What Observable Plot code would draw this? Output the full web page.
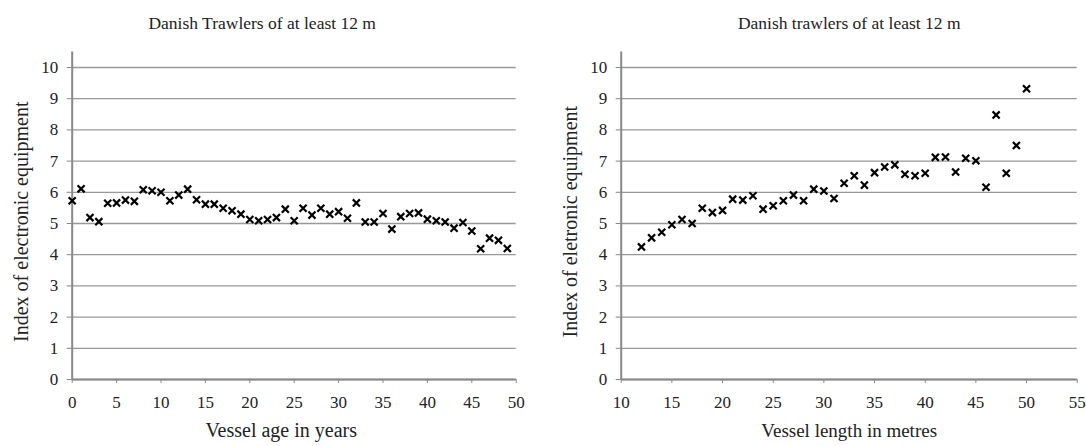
<!DOCTYPE html>
<html><head><meta charset="utf-8">
<script src="https://cdn.jsdelivr.net/npm/d3@7"></script>
<script src="https://cdn.jsdelivr.net/npm/@observablehq/plot@0.6"></script>
<style>
body{margin:0;background:#fff;}
#wrap{display:flex;width:1086px;height:446px;}
svg text{font-family:'Liberation Serif','Times New Roman',serif;}
</style></head><body><div id="wrap"></div>
<script>
const ages = [0,1,2,3,4,5,6,7,8,9,10,11,12,13,14,15,16,17,18,19,20,21,22,23,24,25,26,27,28,29,30,31,32,33,34,35,36,37,38,39,40,41,42,43,44,45,46,47,48,49];
const ageIndex = [5.73,6.11,5.19,5.06,5.65,5.66,5.75,5.71,6.08,6.05,6.00,5.73,5.91,6.10,5.76,5.62,5.62,5.49,5.41,5.30,5.13,5.09,5.13,5.19,5.46,5.09,5.49,5.27,5.49,5.30,5.38,5.17,5.66,5.05,5.05,5.32,4.82,5.22,5.32,5.34,5.14,5.09,5.05,4.85,5.03,4.76,4.19,4.53,4.46,4.20];
const lengths = [12,13,14,15,16,17,18,19,20,21,22,23,24,25,26,27,28,29,30,31,32,33,34,35,36,37,38,39,40,41,42,43,44,45,46,47,48,49,50];
const lengthIndex = [4.25,4.54,4.72,4.96,5.13,5.00,5.49,5.35,5.42,5.78,5.75,5.89,5.46,5.57,5.73,5.91,5.73,6.10,6.04,5.80,6.29,6.53,6.23,6.63,6.81,6.88,6.58,6.53,6.61,7.12,7.13,6.65,7.09,7.01,6.16,8.48,6.61,7.50,9.32];
const yTicks = [0,1,2,3,4,5,6,7,8,9,10];
const ageTicks = [0,5,10,15,20,25,30,35,40,45,50];
const lengthTicks = [10,15,20,25,30,35,40,45,50,55];

const FONT = "'Liberation Serif','Times New Roman',serif";

function chart(o) {
  const data = o.xs.map((x, i) => ({x, y: o.ys[i]}));
  return Plot.plot({
    width: 543, height: 446,
    marginTop: 51.4, marginBottom: 67, marginLeft: o.marginLeft, marginRight: o.marginRight,
    style: {fontFamily: FONT, fontSize: "17px", color: "#222", background: "white", overflow: "visible"},
    x: {domain: o.xDomain},
    y: {domain: [0, 10.5]},
    marks: [
      Plot.gridY({ticks: yTicks, stroke: "#999", strokeOpacity: 1, strokeWidth: 1.3}),
      Plot.axisY({ticks: yTicks, tickSize: 5, tickPadding: 9, stroke: "#888", label: null, fontFamily: FONT, fontSize: 17, fill: "#222"}),
      Plot.axisX({ticks: o.xTicks, tickSize: 4, tickPadding: 12, stroke: "#888", label: null, fontFamily: FONT, fontSize: 17, fill: "#222"}),
      Plot.ruleX([o.xDomain[0]], {stroke: "#888", strokeWidth: 2}),
      Plot.ruleY([0], {stroke: "#888", strokeWidth: 2}),
      Plot.dot(data, {x: "x", y: "y", symbol: "times", r: 3.3, stroke: "black", strokeWidth: 2.2}),
      Plot.text([o.title], {frameAnchor: "top", dy: -35, dx: o.titleDx, fontSize: 17.5, fontFamily: FONT, fill: "#222"}),
      Plot.text([o.xLabel], {frameAnchor: "bottom", dy: 57, dx: o.xLabelDx, fontSize: o.xLabelSize, fontFamily: FONT, fill: "#222"}),
      Plot.text([o.yLabel], {frameAnchor: "left", textAnchor: "middle", rotate: -90, dx: o.yLabelDx, dy: 6, fontSize: 20, fontFamily: FONT, fill: "#222"})
    ]
  });
}

const wrap = document.getElementById("wrap");
wrap.append(chart({
  xs: ages, ys: ageIndex, xDomain: [0, 50], xTicks: ageTicks,
  marginLeft: 71.7, marginRight: 27.3,
  title: "Danish Trawlers of at least 12 m", titleDx: -32,
  xLabel: "Vessel age in years", xLabelDx: -13, xLabelSize: 20,
  yLabel: "Index of electronic equipment", yLabelDx: -51
}));
wrap.append(chart({
  xs: lengths, ys: lengthIndex, xDomain: [10, 55], xTicks: lengthTicks,
  marginLeft: 77.7, marginRight: 9.3,
  title: "Danish trawlers of at least 12 m", titleDx: 0,
  xLabel: "Vessel length in metres", xLabelDx: 0, xLabelSize: 19,
  yLabel: "Index of eletronic equipment", yLabelDx: -51
}));
</script></body></html>
